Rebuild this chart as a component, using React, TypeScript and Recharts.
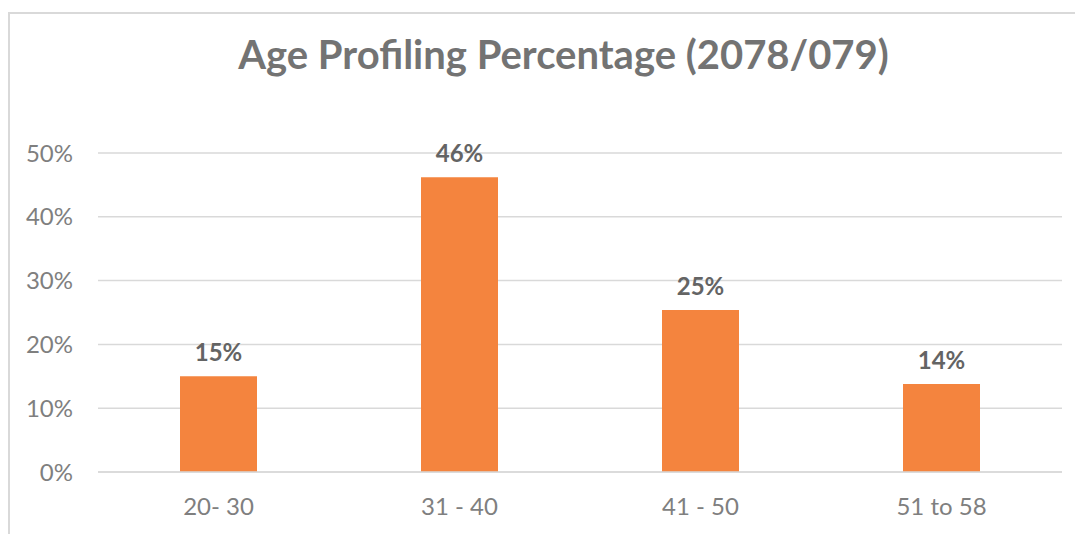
import React from 'react';
import { BarChart, Bar, XAxis, YAxis, CartesianGrid, LabelList } from 'recharts';

const categories = ['20- 30', '31 - 40', '41 - 50', '51 to 58'];
const shares = [15.0, 46.2, 25.4, 13.8];
const yTicks = [0, 10, 20, 30, 40, 50];
const title = 'Age Profiling Percentage (2078/079)';

const data = categories.map((c, i) => ({ name: c, value: shares[i] }));

const FONT = 'Lato, "Open Sans", sans-serif';

export default function App() {
  return (
    <div style={{ position: 'absolute', left: 0, top: 0, width: 1075, height: 534, background: '#fff', overflow: 'hidden', fontFamily: FONT }}>
      <div style={{ position: 'absolute', left: 8, top: 12, width: 1200, height: 700, borderLeft: '2px solid #d9d9d9', borderTop: '2px solid #d9d9d9' }} />
      <div style={{ position: 'absolute', left: 0, top: 28, width: 1127, textAlign: 'center', fontSize: 40, fontWeight: 700, color: '#737373', lineHeight: '52px' }}>
        {title}
      </div>
      <div style={{ position: 'absolute', left: 0, top: 0 }}>
        <BarChart width={1075} height={534} data={data} margin={{ top: 153, right: 13, bottom: 22, left: 0 }} barCategoryGap={82}>
          <CartesianGrid vertical={false} stroke="#d9d9d9" strokeWidth={1.5} />
          <XAxis dataKey="name" axisLine={{ stroke: '#d9d9d9', strokeWidth: 1.5 }} tickLine={false} tickSize={0} tickMargin={26} height={40}
            tick={{ fill: '#7f7f7f', fontSize: 24, fontFamily: FONT }} />
          <YAxis type="number" domain={[0, 50]} ticks={yTicks} axisLine={false} tickLine={false} tickSize={0} tickMargin={25} width={98}
            tickFormatter={(v: number) => `${v}%`} tick={{ fill: '#7f7f7f', fontSize: 24, fontFamily: FONT }} />
          <Bar dataKey="value" fill="#F4843E" isAnimationActive={false}>
            <LabelList dataKey="value" position="top" offset={15} formatter={(v: number) => `${Math.round(v)}%`}
              style={{ fill: '#646464', fontSize: 24, fontWeight: 700, fontFamily: FONT }} />
          </Bar>
        </BarChart>
      </div>
    </div>
  );
}
